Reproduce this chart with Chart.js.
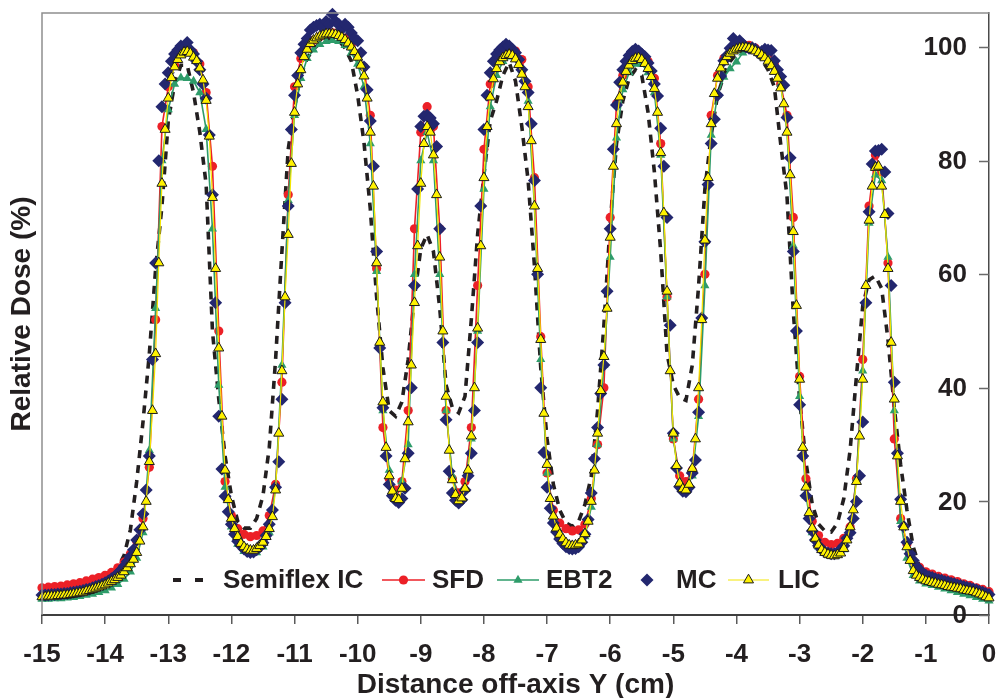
<!DOCTYPE html>
<html>
<head>
<meta charset="utf-8">
<script src="https://cdn.jsdelivr.net/npm/chart.js@4.4.0/dist/chart.umd.min.js"></script>
<style>
  html, body { margin: 0; padding: 0; background: #fff; }
  canvas { display: block; }
</style>
</head>
<body>
<canvas id="doseChart" width="996" height="698"></canvas>
<script>
// off-axis positions (cm): LIC and MC every 0.05 cm, the others every 0.1 cm
const posFine = Array.from({ length: 301 }, (_, i) => +(-15 + i * 0.05).toFixed(2));
const posCoarse = Array.from({ length: 151 }, (_, i) => +(-15 + i * 0.1).toFixed(1));

const xTicks = [-15, -14, -13, -12, -11, -10, -9, -8, -7, -6, -5, -4, -3, -2, -1, 0];
const yTicks = [0, 20, 40, 60, 80, 100];

// LIC, one row per cm
const lic = [
  3.2,3.2,3.3,3.3,3.3,3.4,3.4,3.5,3.5,3.6,3.7,3.8,3.9,4.0,4.2,4.3,4.5,4.7,4.9,5.1,
  5.3,5.6,5.9,6.2,6.6,7.0,7.6,8.3,9.0,9.8,11.0,13.0,15.5,20.0,27.0,36.0,46.0,62.0,76.0,85.5,
  91.0,94.6,96.5,97.8,98.6,99.1,99.2,98.9,98.2,97.6,96.3,94.2,90.6,84.3,73.5,61.0,47.0,35.0,25.5,20.3,
  17.0,15.2,13.8,12.6,12.0,11.6,11.4,11.4,11.7,12.2,12.8,13.8,15.2,17.3,22.0,32.0,43.0,56.0,67.0,79.5,
  88.5,93.5,96.0,98.3,99.6,100.6,101.2,101.6,101.9,102.1,102.3,102.3,102.3,102.2,102.0,101.7,101.3,100.7,100.0,99.2,
  98.2,96.8,94.9,91.0,85.0,75.5,62.0,48.0,37.5,29.5,24.5,21.8,20.5,20.3,22.3,27.5,34.0,44.0,55.0,65.0,
  76.0,83.0,86.0,85.0,81.0,74.0,63.0,50.0,38.5,29.0,23.8,21.2,20.1,20.6,22.3,25.5,31.5,40.0,50.5,65.0,
  77.0,86.0,91.2,94.4,96.2,97.4,98.1,98.5,98.7,98.5,97.9,96.9,95.2,93.0,89.5,83.5,72.0,61.0,48.5,35.5,
  26.5,20.5,17.4,15.3,14.2,13.4,12.7,12.3,12.2,12.3,12.5,13.2,14.3,16.5,20.0,25.5,32.0,39.5,45.5,54.0,
  66.5,79.0,86.5,91.2,93.8,95.7,96.8,97.6,98.0,98.1,97.8,97.1,96.2,94.8,92.7,88.5,81.4,70.8,57.0,43.0,
  32.0,26.3,23.2,22.2,22.0,23.0,25.8,31.0,40.0,52.0,66.0,77.0,86.5,91.8,94.5,96.3,97.4,98.3,98.9,99.3,
  99.6,99.8,99.9,99.9,99.8,99.6,99.3,99.0,98.6,98.1,97.5,96.7,95.7,94.5,92.8,90.0,85.0,77.5,67.5,54.5,
  41.5,29.5,22.5,18.0,15.3,13.5,12.3,11.5,11.0,10.7,10.5,10.4,10.6,10.9,11.7,13.2,15.5,18.5,23.5,31.5,
  41.5,58.0,69.5,75.5,78.8,79.0,75.5,70.5,61.0,48.0,38.0,28.0,20.0,15.5,12.0,9.6,7.8,7.0,6.6,6.3,
  6.0,5.9,5.7,5.6,5.4,5.3,5.2,5.0,4.9,4.8,4.7,4.6,4.4,4.3,4.2,4.1,3.9,3.7,3.5,3.2,
  3.0
];

// MC
const mc = [
  3.5,3.5,3.5,3.6,3.6,3.7,3.7,3.8,3.8,3.9,4.0,4.1,4.2,4.3,4.5,4.6,4.8,5.0,5.2,5.4,
  5.7,6.0,6.4,6.8,7.3,7.9,8.6,9.4,10.3,11.5,13.2,15.0,17.8,22.0,28.0,45.0,62.0,80.0,89.5,93.5,
  95.5,97.5,98.8,99.5,100.2,99.8,100.8,99.5,98.8,97.5,96.0,93.5,91.0,84.5,74.0,55.0,35.0,25.7,20.9,18.2,
  16.0,14.2,13.0,12.2,11.6,11.2,11.0,11.1,11.5,12.0,12.7,14.0,16.0,18.5,22.5,27.0,38.0,55.0,72.0,85.5,
  91.5,95.0,99.0,100.5,101.5,103.0,103.5,103.8,104.0,103.5,104.5,104.0,105.8,104.5,104.0,103.2,104.0,103.5,102.5,101.5,
  101.1,99.0,96.5,92.5,87.0,79.0,64.0,47.0,36.5,28.0,23.0,21.0,20.2,19.8,20.5,22.3,28.5,40.0,58.0,75.0,
  86.0,87.8,88.0,87.5,86.5,82.5,68.0,48.0,34.4,25.3,21.5,20.2,19.7,20.3,22.0,24.5,28.5,36.0,48.0,72.0,
  85.5,91.5,95.5,97.5,98.8,99.5,100.0,100.5,100.2,99.6,99.0,97.8,96.0,94.0,92.0,86.5,76.5,60.0,40.0,28.6,
  22.5,18.8,16.2,14.6,13.4,12.6,12.0,11.7,11.6,11.7,12.0,12.8,14.2,16.8,21.5,27.5,33.0,39.0,44.0,57.0,
  68.0,82.0,89.8,93.8,96.0,97.5,98.5,99.2,99.6,99.3,98.8,98.3,97.2,95.8,93.5,91.4,85.7,79.0,70.0,51.0,
  32.0,25.9,22.6,21.8,21.7,22.5,25.0,27.3,35.7,52.3,65.7,75.8,83.0,87.3,91.5,94.9,97.6,98.5,99.8,101.5,
  100.8,101.1,100.5,100.0,99.8,99.9,99.6,99.0,99.2,99.6,99.5,99.4,97.6,96.0,94.8,93.3,87.6,80.5,64.0,50.0,
  37.0,28.0,21.0,17.0,14.8,13.2,12.2,11.5,11.1,10.9,10.8,10.8,11.0,11.5,12.2,13.5,14.5,17.0,20.0,24.5,
  34.0,55.0,71.0,79.4,81.7,81.8,82.0,78.0,70.7,58.0,41.0,28.5,20.4,15.6,12.8,10.8,9.6,8.6,7.9,7.4,
  7.0,6.8,6.6,6.4,6.2,6.1,5.9,5.8,5.6,5.5,5.3,5.2,5.0,4.9,4.7,4.6,4.4,4.2,4.0,3.8,
  3.6
];

// SFD
const sfd = [
  4.8,4.9,5.0,5.1,5.3,5.5,5.7,6.0,6.3,6.6,
  7.0,7.5,8.3,9.3,10.8,13.0,17.0,26.0,52.0,86.0,
  93.0,96.8,99.0,99.5,99.0,97.0,92.0,79.0,50.0,23.5,
  17.5,15.2,14.2,13.8,14.0,14.8,17.5,23.0,41.0,74.0,
  93.0,98.0,100.2,101.2,101.8,102.3,102.5,102.2,101.6,100.5,
  98.8,96.5,88.0,61.0,33.0,24.0,22.0,23.5,36.0,68.0,
  85.0,89.5,86.0,68.0,36.0,24.0,21.5,23.5,33.0,58.0,
  82.0,93.5,97.5,99.2,99.7,99.3,97.8,93.0,77.0,49.0,
  25.0,18.5,16.2,15.2,14.8,15.0,16.0,20.5,30.0,40.0,
  70.0,90.0,95.0,97.5,98.5,98.7,97.5,94.5,83.0,56.0,
  31.0,24.5,23.5,25.5,38.0,60.0,88.0,95.0,98.0,99.3,
  100.2,100.5,100.3,99.8,99.2,98.5,97.0,93.5,88.0,70.0,
  42.0,24.0,16.5,14.0,12.8,12.4,12.6,13.5,15.5,24.0,
  45.0,72.0,81.0,78.0,62.0,31.0,17.0,12.5,9.5,8.4,
  7.6,7.2,6.8,6.5,6.2,5.9,5.5,5.2,4.8,4.5,
  4.1
];

// EBT2
const ebt2 = [
  2.8,2.8,2.9,2.9,3.0,3.1,3.3,3.5,3.7,4.0,
  4.3,4.8,5.4,6.3,7.6,10.0,14.5,29.0,54.0,80.0,
  89.0,93.5,94.6,94.5,94.0,92.0,85.5,68.0,40.5,22.5,
  15.5,12.5,11.2,10.8,11.0,12.0,14.5,22.5,44.0,73.0,
  88.0,94.5,98.0,99.5,100.5,101.0,101.2,101.0,100.3,99.0,
  97.0,93.0,83.0,60.5,36.0,25.5,21.0,23.5,30.0,60.0,
  80.0,85.0,80.0,60.0,36.0,24.5,20.5,22.5,31.0,50.0,
  75.0,89.5,95.0,97.5,98.3,98.0,96.0,90.5,72.0,45.0,
  25.0,17.0,14.0,12.6,12.0,12.3,13.8,19.0,30.0,44.0,
  63.0,84.0,92.5,95.5,97.0,97.0,95.5,92.0,81.0,56.0,
  31.0,23.5,22.0,24.5,35.0,58.0,84.5,91.5,94.7,96.2,
  97.4,99.0,99.6,99.5,99.0,98.0,96.5,93.5,85.0,65.0,
  38.5,21.0,14.5,12.0,11.0,10.5,10.5,11.5,14.5,24.0,
  43.0,69.0,77.5,76.5,63.0,36.0,16.5,10.0,7.0,6.0,
  5.5,5.2,4.9,4.6,4.3,4.0,3.7,3.4,3.1,2.8,
  2.5
];

// Semiflex IC
const semiflex = [
  3.8,3.9,4.0,4.1,4.3,4.5,4.7,5.0,5.3,5.7,
  6.2,7.0,8.3,10.5,15.0,23.5,34.0,46.0,61.0,72.0,
  87.0,93.5,96.8,96.8,92.0,85.0,75.8,50.0,38.0,28.0,
  21.0,16.5,15.3,15.3,17.0,21.0,29.5,45.0,64.0,82.0,
  89.5,95.0,98.0,99.7,100.6,101.2,101.4,101.2,99.8,97.5,
  91.5,83.2,71.5,56.0,43.5,36.0,35.0,37.5,45.0,56.0,
  64.5,67.0,64.0,54.0,40.5,36.5,35.6,38.5,52.0,67.0,
  77.5,87.0,90.5,95.0,97.3,94.0,86.0,76.5,61.5,43.5,
  31.0,23.0,18.5,16.2,15.6,16.5,19.5,24.4,36.0,51.0,
  69.0,83.0,90.5,94.5,96.0,95.0,88.5,78.0,64.0,46.0,
  40.5,38.3,37.8,44.0,57.9,75.0,84.5,91.5,95.0,97.5,
  98.8,99.4,99.3,98.8,97.8,96.0,93.0,83.0,73.8,53.5,
  38.0,27.0,19.5,16.0,14.8,14.6,16.2,20.5,29.0,42.0,
  54.4,59.0,59.7,57.5,48.5,36.5,26.5,18.5,12.0,8.5,
  6.5,5.8,5.4,5.1,4.8,4.6,4.4,4.2,4.0,3.7,
  3.4
];

const FONT = "'Liberation Sans', Arial, sans-serif";
const INK = '#231F20';

const pairs = (xs, ys) => xs.map((x, i) => ({ x: x, y: ys[i] }));

const datasets = [
  {
    label: 'LIC', data: pairs(posFine, lic), order: 1,
    borderColor: '#F3E600', borderWidth: 1.2,
    pointStyle: 'triangle', pointRadius: 5.8,
    pointBackgroundColor: '#FFF200', pointBorderColor: '#1A1A1A', pointBorderWidth: 1
  },
  {
    label: 'MC', data: pairs(posFine, mc), order: 2, showLine: false,
    pointStyle: 'rectRot', pointRadius: 6.5,
    pointBackgroundColor: '#23276F', pointBorderColor: '#23276F', pointBorderWidth: 0
  },
  {
    label: 'EBT2', data: pairs(posCoarse, ebt2), order: 3,
    borderColor: '#2E9C6A', borderWidth: 1.6,
    pointStyle: 'triangle', pointRadius: 5.3,
    pointBackgroundColor: '#2E9C6A', pointBorderColor: '#2E9C6A', pointBorderWidth: 0
  },
  {
    label: 'SFD', data: pairs(posCoarse, sfd), order: 4,
    borderColor: '#EC2027', borderWidth: 1.6,
    pointStyle: 'circle', pointRadius: 4.6,
    pointBackgroundColor: '#EC2027', pointBorderColor: '#EC2027', pointBorderWidth: 0
  },
  {
    label: 'Semiflex IC', data: pairs(posCoarse, semiflex), order: 5,
    borderColor: INK, borderWidth: 3.6, borderDash: [8, 7], pointRadius: 0
  }
];

function marker(ctx, style, x, y, r) {
  ctx.beginPath();
  if (style === 'circle') {
    ctx.arc(x, y, r, 0, Math.PI * 2);
  } else if (style === 'triangle') {
    ctx.moveTo(x, y - r);
    ctx.lineTo(x + r * Math.sin(2 * Math.PI / 3), y - r * Math.cos(2 * Math.PI / 3));
    ctx.lineTo(x + r * Math.sin(4 * Math.PI / 3), y - r * Math.cos(4 * Math.PI / 3));
    ctx.closePath();
  } else {
    ctx.moveTo(x - r, y); ctx.lineTo(x, y - r); ctx.lineTo(x + r, y); ctx.lineTo(x, y + r);
    ctx.closePath();
  }
}

// no label overflow padding, so the plot area is set by the fixed axis sizes
const noPad = s => { s.paddingLeft = 0; s.paddingRight = 0; s.paddingTop = 0; s.paddingBottom = 0; };

// frame, inner ticks and labels of the right axis, legend inside the plot
const extras = {
  id: 'extras',
  afterDatasetsDraw(chart) {
    const { ctx, chartArea: a, scales } = chart;
    ctx.save();
    ctx.strokeStyle = '#8E8E8E';
    ctx.lineWidth = 1.5;
    ctx.beginPath();
    ctx.moveTo(a.left, a.bottom); ctx.lineTo(a.left, a.top); ctx.lineTo(a.right, a.top);
    ctx.stroke();
    ctx.strokeStyle = '#6A6A6A';
    ctx.fillStyle = INK;
    ctx.font = 'bold 26px ' + FONT;
    ctx.textAlign = 'right';
    ctx.textBaseline = 'middle';
    yTicks.forEach(v => {
      const py = scales.y.getPixelForValue(v);
      const ly = Math.round(py) + 0.5;
      ctx.beginPath(); ctx.moveTo(a.right - 10, ly); ctx.lineTo(a.right, ly); ctx.stroke();
      ctx.fillText(String(v), a.right - 22, py + 1);
    });
    ctx.restore();
  },
  afterDraw(chart) {
    const { ctx } = chart;
    const ds = chart.data.datasets;
    const y = 580;
    const items = [
      { d: ds[4], from: 173, to: 203, at: null, text: 223 },
      { d: ds[3], from: 382, to: 425, at: 403.5, text: 432 },
      { d: ds[2], from: 497, to: 539, at: 518, text: 546 },
      { d: ds[1], from: null, to: null, at: 647, text: 676 },
      { d: ds[0], from: 728, to: 769, at: 748.5, text: 778 }
    ];
    ctx.save();
    items.forEach(it => {
      const d = it.d;
      if (it.from !== null) {
        ctx.beginPath();
        ctx.strokeStyle = d.borderColor;
        ctx.lineWidth = d.label === 'Semiflex IC' ? 4 : d.borderWidth;
        ctx.setLineDash(d.label === 'Semiflex IC' ? [8, 14] : []);
        ctx.moveTo(it.from, y); ctx.lineTo(it.to, y);
        ctx.stroke();
        ctx.setLineDash([]);
      }
      if (it.at !== null) {
        marker(ctx, d.pointStyle, it.at, y, d.pointRadius);
        ctx.fillStyle = d.pointBackgroundColor;
        ctx.fill();
        if (d.pointBorderWidth) {
          ctx.lineWidth = d.pointBorderWidth;
          ctx.strokeStyle = d.pointBorderColor;
          ctx.stroke();
        }
      }
      ctx.fillStyle = INK;
      ctx.font = 'bold 26px ' + FONT;
      ctx.textBaseline = 'middle';
      ctx.textAlign = 'left';
      ctx.fillText(d.label, it.text, y + 1);
    });
    ctx.restore();
  }
};

new Chart(document.getElementById('doseChart'), {
  type: 'line',
  data: { datasets: datasets },
  plugins: [extras],
  options: {
    responsive: false,
    devicePixelRatio: 1,
    animation: false,
    clip: false,
    layout: { padding: { top: 13, left: 0, right: 0, bottom: 0 } },
    plugins: { legend: { display: false }, tooltip: { enabled: false } },
    scales: {
      x: {
        type: 'linear', min: -15, max: 0,
        afterFit: s => { s.height = 83; noPad(s); },
        afterBuildTicks: s => { s.ticks = xTicks.map(v => ({ value: v })); },
        ticks: { color: INK, padding: 15, font: { family: FONT, size: 26, weight: 'bold' } },
        grid: { drawOnChartArea: false, drawTicks: true, tickLength: 9, color: '#5A5A5A', lineWidth: 1.5 },
        border: { display: true, color: '#3F3F3F', width: 2 },
        title: {
          display: true, text: 'Distance off-axis Y (cm)', color: INK,
          font: { family: FONT, size: 28, weight: 'bold', lineHeight: 0.9 }, padding: { top: 0, bottom: 0 }
        }
      },
      yL: {
        type: 'linear', position: 'left', min: 0, max: 106,
        afterFit: s => { s.width = 42; noPad(s); },
        ticks: { display: false },
        grid: { display: false, drawTicks: false },
        border: { display: false },
        title: {
          display: true, text: 'Relative Dose (%)', color: INK,
          font: { family: FONT, size: 28, weight: 'bold', lineHeight: 1.1 }, padding: { top: 7, bottom: 0 }
        }
      },
      y: {
        type: 'linear', position: 'right', min: 0, max: 106,
        afterFit: s => { s.width = 7; noPad(s); },
        afterBuildTicks: s => { s.ticks = yTicks.map(v => ({ value: v })); },
        ticks: { display: false },
        grid: { display: false, drawTicks: false },
        border: { display: true, color: '#4A4A4A', width: 1.5 }
      }
    }
  }
});
</script>
</body>
</html>
